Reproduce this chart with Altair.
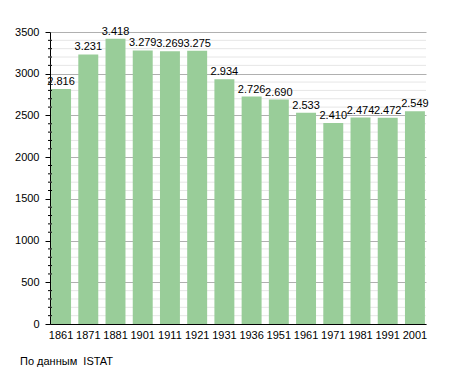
import altair as alt
import pandas as pd

years = ["1861", "1871", "1881", "1901", "1911", "1921", "1931", "1936",
         "1951", "1961", "1971", "1981", "1991", "2001"]
population = [2816, 3231, 3418, 3279, 3269, 3275, 2934, 2726,
              2690, 2533, 2410, 2474, 2472, 2549]
major_ticks = [0, 500, 1000, 1500, 2000, 2500, 3000, 3500]
minor_ticks = [v for v in range(100, 3500, 100) if v % 500 != 0]

df = pd.DataFrame({"year": years, "pop": population})
minor_df = pd.DataFrame({"v": minor_ticks})

FONT = "Liberation Sans"

yscale = alt.Scale(domain=[0, 3500], nice=False)
yaxis = alt.Axis(values=major_ticks, labelOverlap=False, format="d",
                 gridColor="#b0b0b0", tickSize=5,
                 tickColor="#000", domainColor="#000",
                 labelColor="#000", labelFontSize=11, labelFont=FONT,
                 labelPadding=6)

x = alt.X("year:N", sort=years, title=None,
          scale=alt.Scale(paddingInner=0.267, paddingOuter=0.04),
          axis=alt.Axis(labelAngle=0, ticks=False, domainColor="#000",
                        labelColor="#000", labelFontSize=11, labelFont=FONT,
                        labelPadding=5))

minor_grid = alt.Chart(minor_df).mark_rule(color="#e6e6e6", strokeWidth=1).encode(
    y=alt.Y("v:Q", scale=yscale, axis=yaxis, title=None),
    x=alt.value(0), x2=alt.value(376),
)
minor_tick = alt.Chart(minor_df).mark_rule(color="#000", strokeWidth=1).encode(
    y=alt.Y("v:Q", scale=yscale, axis=yaxis, title=None),
    x=alt.value(-2), x2=alt.value(2),
)

bars = alt.Chart(df).mark_bar(color="#99cd99").encode(
    x=x, y=alt.Y("pop:Q", scale=yscale, axis=yaxis, title=None))

labels = alt.Chart(df).transform_calculate(
    lab="replace(format(datum.pop, ','), ',', '.')"
).mark_text(baseline="bottom", dy=-2, fontSize=11, font=FONT, color="#000").encode(
    x=alt.X("year:N", sort=years),
    y=alt.Y("pop:Q", scale=yscale, axis=yaxis, title=None),
    text="lab:N",
)

chart = alt.layer(minor_grid, bars, minor_tick, labels).properties(
    width=376, height=292,
    autosize=alt.AutoSizeParams(type="none"),
    padding={"left": 42, "top": 24, "right": 20, "bottom": 49},
    title=alt.TitleParams("По данным\u00a0\u00a0ISTAT", orient="bottom", anchor="start",
                          frame="group", dx=-30, offset=16, fontSize=11, font=FONT,
                          fontWeight="normal", color="#000"),
).configure_view(stroke=None)

chart.save("out.html", embed_options={"renderer": "svg", "actions": False})
